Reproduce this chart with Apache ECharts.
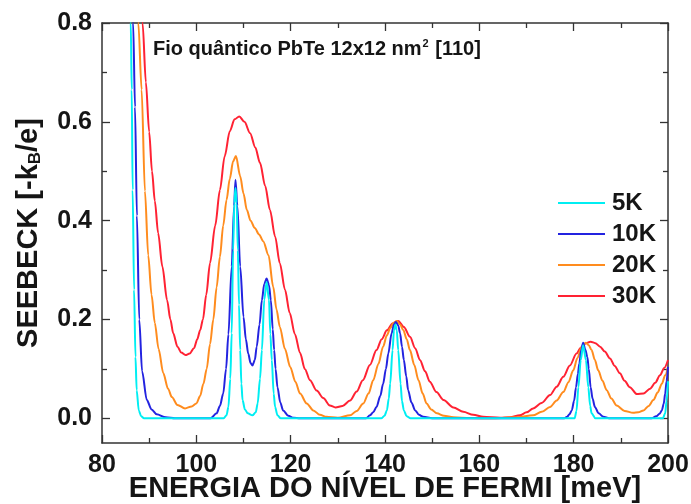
<!DOCTYPE html>
<html>
<head>
<meta charset="utf-8">
<script src="https://cdn.jsdelivr.net/npm/echarts@6/dist/echarts.min.js"></script>
<style>
  html, body { margin: 0; padding: 0; background: #fff; }
  #chart { width: 691px; height: 504px; }
</style>
</head>
<body>
<div id="chart"></div>
<script>
// values: energy in meV, Seebeck in -kB/e
const energy5K = [85.9, 86.1, 86.3, 86.5, 86.8, 87.1, 87.35, 87.8, 88.3, 88.9,
  105.8, 106.4, 106.8, 107.2, 107.5, 107.8, 108.05, 108.3, 108.55, 108.8, 109.05, 109.3, 109.55, 109.8, 110.3, 110.9, 111.9,
  112.6, 113.0, 113.5, 113.9, 114.4, 114.9, 115.4, 115.7, 116.0, 116.4, 116.7, 117.2, 117.9,
  139.2, 139.9, 140.4, 140.8, 141.1, 141.6, 141.9, 142.2, 142.5, 142.8, 143.3, 143.6, 144.0, 144.6, 145.4,
  180.2, 180.6, 181.0, 181.5, 182.0, 182.6, 183.1, 183.5, 183.8, 184.6,
  198.9, 199.4, 199.7, 200];
const seebeck5K = [0.95, 0.8, 0.665, 0.462, 0.26, 0.124, 0.057, 0.016, 0.004, 0,
  0, 0.006, 0.023, 0.08, 0.172, 0.34, 0.435, 0.466, 0.435, 0.34, 0.23, 0.138, 0.07, 0.037, 0.018, 0.01, 0.006,
  0.012, 0.03, 0.08, 0.138, 0.24, 0.276, 0.24, 0.17, 0.118, 0.05, 0.023, 0.006, 0,
  0, 0.005, 0.016, 0.04, 0.07, 0.138, 0.178, 0.19, 0.178, 0.138, 0.07, 0.035, 0.016, 0.004, 0,
  0, 0.015, 0.063, 0.118, 0.148, 0.118, 0.063, 0.025, 0.01, 0,
  0, 0.01, 0.035, 0.075];

const energy10K = [86.3, 86.6, 87.0, 87.4, 87.9, 88.5, 89.5, 90.5, 91.6, 93.5, 95.5,
  103.0, 104.3, 105.0, 105.7, 106.3, 106.8, 107.5, 108.0, 108.3, 108.7, 109.3, 110.0, 110.5, 111.0, 111.5, 111.9,
  112.4, 112.8, 113.4, 113.9, 114.4, 114.9, 115.4, 115.8, 116.2, 116.5, 116.8, 117.2, 117.8, 118.4, 119.5, 120.6, 122.0,
  136.0, 136.8, 137.5, 138.2, 139.0, 139.6, 140.2, 140.7, 141.4, 141.9, 142.3, 142.8, 143.2, 143.6, 144.0, 144.5, 144.9,
  145.6, 146.4, 147.2, 148.1, 150.0,
  178.0, 178.6, 179.1, 179.6, 180.1, 180.5, 180.9, 181.2, 181.6, 182.0, 182.5, 182.9, 183.2, 183.6, 184.0, 184.5, 185.3, 186.3, 187.5,
  196.5, 197.5, 198.2, 198.7, 199.1, 199.4, 199.7, 200];
const seebeck10K = [0.95, 0.8, 0.63, 0.41, 0.2, 0.095, 0.037, 0.018, 0.008, 0.002, 0,
  0, 0.01, 0.025, 0.05, 0.1, 0.17, 0.307, 0.429, 0.483, 0.43, 0.307, 0.205, 0.16, 0.131, 0.112, 0.107,
  0.118, 0.145, 0.19, 0.239, 0.272, 0.283, 0.27, 0.239, 0.18, 0.138, 0.1, 0.063, 0.032, 0.016, 0.005, 0.001, 0,
  0, 0.006, 0.012, 0.023, 0.045, 0.07, 0.1, 0.131, 0.172, 0.19, 0.195, 0.188, 0.172, 0.145, 0.118, 0.085, 0.057,
  0.032, 0.016, 0.007, 0.003, 0,
  0, 0.003, 0.008, 0.016, 0.036, 0.063, 0.09, 0.111, 0.138, 0.153, 0.138, 0.124, 0.1, 0.063, 0.04, 0.023, 0.01, 0.003, 0,
  0, 0.004, 0.009, 0.016, 0.03, 0.05, 0.075, 0.104];

const energy20K = [87.3, 87.7, 88.4, 89.1, 89.8, 90.5, 91.2, 92.0, 93.0, 94.0, 94.8, 96.0, 97.6, 99.0, 100.0,
  100.8, 101.5, 102.2, 102.9, 103.6, 104.3, 105.0, 105.7, 106.4, 107.1, 107.8, 108.4, 109.3, 110.0, 110.7,
  111.5, 112.4, 113.3, 114.2, 115.3, 116.3, 117.0, 117.7, 118.8, 119.9, 121.0, 122.0, 123.4, 124.8, 126.2, 127.6,
  130.0, 132.6, 134.0, 135.4, 136.5, 137.5, 138.6, 139.6, 140.4, 141.1, 141.8, 142.5, 143.2, 143.9, 144.6, 145.3,
  146.2, 147.1, 148.0, 148.8, 149.8, 151.0, 152.5, 154.5, 158.0, 163.0, 168.0, 171.4, 173.2, 175.0, 176.4, 177.8,
  178.9, 179.9, 180.8, 181.7, 182.6, 183.2, 183.8, 184.5, 185.2, 186.1, 187.0, 188.0, 189.1, 190.8, 192.6, 193.7,
  194.8, 195.9, 196.9, 197.8, 198.7, 199.4, 200];
const seebeck20K = [0.95, 0.8, 0.665, 0.46, 0.33, 0.25, 0.193, 0.14, 0.091, 0.06, 0.043, 0.027, 0.02, 0.024, 0.03,
  0.045, 0.07, 0.1, 0.15, 0.2, 0.265, 0.327, 0.39, 0.442, 0.485, 0.52, 0.531, 0.49, 0.455, 0.422,
  0.4, 0.385, 0.372, 0.358, 0.33, 0.266, 0.22, 0.185, 0.14, 0.104, 0.074, 0.05, 0.03, 0.016, 0.007, 0.003,
  0.001, 0.006, 0.015, 0.03, 0.05, 0.077, 0.11, 0.145, 0.168, 0.182, 0.193, 0.197, 0.19, 0.178, 0.16, 0.138,
  0.108, 0.077, 0.05, 0.03, 0.018, 0.01, 0.005, 0.002, 0.0005, 0, 0.002, 0.006, 0.013, 0.023, 0.036, 0.053,
  0.073, 0.097, 0.122, 0.145, 0.153, 0.148, 0.138, 0.118, 0.097, 0.076, 0.057, 0.04, 0.026, 0.015, 0.011, 0.012,
  0.016, 0.025, 0.037, 0.052, 0.07, 0.087, 0.104];

const energy30K = [88.0, 88.6, 89.3, 90.0, 90.6, 91.2, 91.9, 92.8, 93.8, 94.5, 95.1, 96.0, 96.8, 97.7, 98.6, 99.5,
  100.2, 100.8, 101.4, 102.1, 102.9, 104.0, 105.0, 106.0, 107.1, 108.1, 109.1, 110.2, 111.4, 112.5, 113.5, 114.6,
  115.6, 116.7, 117.7, 118.8, 119.8, 120.9, 122.0, 123.0, 124.1, 125.5, 126.9, 128.3, 129.5, 131.0, 132.6, 134.0,
  135.3, 136.8, 138.2, 139.3, 140.4, 141.6, 142.8, 144.0, 145.3, 146.4, 147.4, 148.5, 149.5, 150.9, 152.4, 154.5,
  156.6, 158.7, 160.8, 164.4, 166.5, 168.6, 170.0, 171.4, 173.2, 175.0, 176.4, 177.8, 179.2, 180.6, 181.5, 182.4,
  183.6, 184.6, 185.6, 186.6, 187.7, 188.7, 189.8, 190.8, 191.9, 193.4, 194.8, 196.2, 197.3, 198.3, 199.2, 200];
const seebeck30K = [0.95, 0.8, 0.68, 0.58, 0.5, 0.44, 0.375, 0.307, 0.239, 0.2, 0.172, 0.145, 0.133, 0.128, 0.131, 0.142,
  0.16, 0.178, 0.2, 0.25, 0.314, 0.39, 0.462, 0.53, 0.581, 0.605, 0.611, 0.6, 0.577, 0.548, 0.517, 0.47,
  0.422, 0.368, 0.314, 0.26, 0.213, 0.17, 0.132, 0.1, 0.077, 0.056, 0.041, 0.026, 0.022, 0.025, 0.036, 0.054,
  0.077, 0.108, 0.138, 0.16, 0.178, 0.192, 0.197, 0.185, 0.165, 0.142, 0.118, 0.095, 0.074, 0.053, 0.037, 0.022,
  0.013, 0.007, 0.003, 0.001, 0.002, 0.006, 0.012, 0.02, 0.031, 0.047, 0.064, 0.084, 0.107, 0.131, 0.143, 0.151,
  0.155, 0.152, 0.145, 0.135, 0.121, 0.106, 0.091, 0.076, 0.063, 0.049, 0.05, 0.06, 0.072, 0.087, 0.102, 0.118];

const seriesNames = ["5K", "10K", "20K", "30K"];
const seriesColors = ["#00eef2", "#2323e0", "#ff8c1e", "#ff2233"];
const yMajorTicks = [0, 0.2, 0.4, 0.6, 0.8];
const yMinorTicks = [0.1, 0.3, 0.5, 0.7];

const font = "Liberation Sans, Arial, sans-serif";
const axisColor = "#333";
const textColor = "#151515";

function pairs(xs, ys) {
  return xs.map(function(x, i) {
    return [x, ys[i]];
  });
}

const curves = [
  pairs(energy5K, seebeck5K),
  pairs(energy10K, seebeck10K),
  pairs(energy20K, seebeck20K),
  pairs(energy30K, seebeck30K)
];

function xAxisOf(pos) {
  const bottom = pos === "bottom";
  return {
    type: "value",
    position: pos,
    min: 80,
    max: 200,
    interval: 20,
    name: bottom ? "ENERGIA DO NÍVEL DE FERMI [meV]" : "",
    nameLocation: "middle",
    nameGap: 31,
    nameMoveOverlap: false,
    nameTextStyle: { fontSize: 29, fontWeight: "bold", color: textColor, fontFamily: font },
    axisLine: { show: true, onZero: false, lineStyle: { color: axisColor, width: 1.5 } },
    axisTick: { show: true, inside: true, length: 8, lineStyle: { color: axisColor, width: 1.3 } },
    minorTick: { show: true, splitNumber: 2, length: 5, lineStyle: { color: axisColor, width: 1.3 } },
    axisLabel: {
      show: bottom,
      margin: 10,
      fontSize: 25,
      fontWeight: "bold",
      color: textColor,
      fontFamily: font
    },
    splitLine: { show: false }
  };
}

function yAxisOf(pos, ticks, major) {
  const labelled = pos === "left" && major;
  return {
    type: "value",
    position: pos,
    min: -0.05,
    max: 0.8,
    name: labelled ? "SEEBECK [-k{sub|B}/e]" : "",
    nameLocation: "middle",
    nameRotate: 90,
    nameGap: 58,
    nameMoveOverlap: false,
    nameTextStyle: {
      fontSize: 29,
      fontWeight: "bold",
      color: textColor,
      fontFamily: font,
      rich: {
        sub: { fontSize: 17, fontWeight: "bold", color: textColor, fontFamily: font, verticalAlign: "bottom", padding: [14, 0, 0, 0] }
      }
    },
    axisLine: { show: major, onZero: false, lineStyle: { color: axisColor, width: 1.5 } },
    axisTick: {
      show: true,
      inside: true,
      length: major ? 8 : 5,
      customValues: ticks,
      lineStyle: { color: axisColor, width: 1.3 }
    },
    axisLabel: {
      show: labelled,
      margin: 10,
      customValues: ticks,
      fontSize: 25,
      fontWeight: "bold",
      color: textColor,
      fontFamily: font,
      formatter: function(v) {
        return v.toFixed(1);
      }
    },
    splitLine: { show: false }
  };
}

const chart = echarts.init(document.getElementById("chart"), null, { renderer: "canvas" });

chart.setOption({
  animation: false,
  backgroundColor: "#fff",
  grid: { left: 102, right: 23, top: 23, bottom: 61, containLabel: false, outerBoundsMode: "none" },
  title: {
    text: "Fio quântico PbTe 12x12 nm{sup|2} [110]",
    left: 148,
    top: 33,
    textStyle: {
      fontSize: 20,
      fontWeight: "bold",
      color: textColor,
      fontFamily: font,
      rich: {
        sup: { fontSize: 11, fontWeight: "bold", color: textColor, fontFamily: font, verticalAlign: "top", padding: [0, 1, 12, 1] }
      }
    }
  },
  legend: {
    orient: "vertical",
    left: 553,
    top: 186,
    itemWidth: 47,
    itemHeight: 20,
    itemGap: 7,
    icon: "path://M0,0 L47,0 L47,2.2 L0,2.2 Z",
    symbolKeepAspect: true,
    data: seriesNames,
    textStyle: { fontSize: 24, fontWeight: "bold", color: textColor, fontFamily: font, padding: [0, 0, 0, 2] }
  },
  xAxis: [xAxisOf("bottom"), xAxisOf("top")],
  yAxis: [
    yAxisOf("left", yMajorTicks, true),
    yAxisOf("left", yMinorTicks, false),
    yAxisOf("right", yMajorTicks, true),
    yAxisOf("right", yMinorTicks, false)
  ],
  series: curves.map(function(data, i) {
    return {
      name: seriesNames[i],
      type: "line",
      data: data,
      z: 10 - i,
      symbol: "none",
      showSymbol: false,
      smooth: 0.3,
      smoothMonotone: "x",
      clip: true,
      color: seriesColors[i],
      lineStyle: { color: seriesColors[i], width: 2 }
    };
  })
});
</script>
</body>
</html>
